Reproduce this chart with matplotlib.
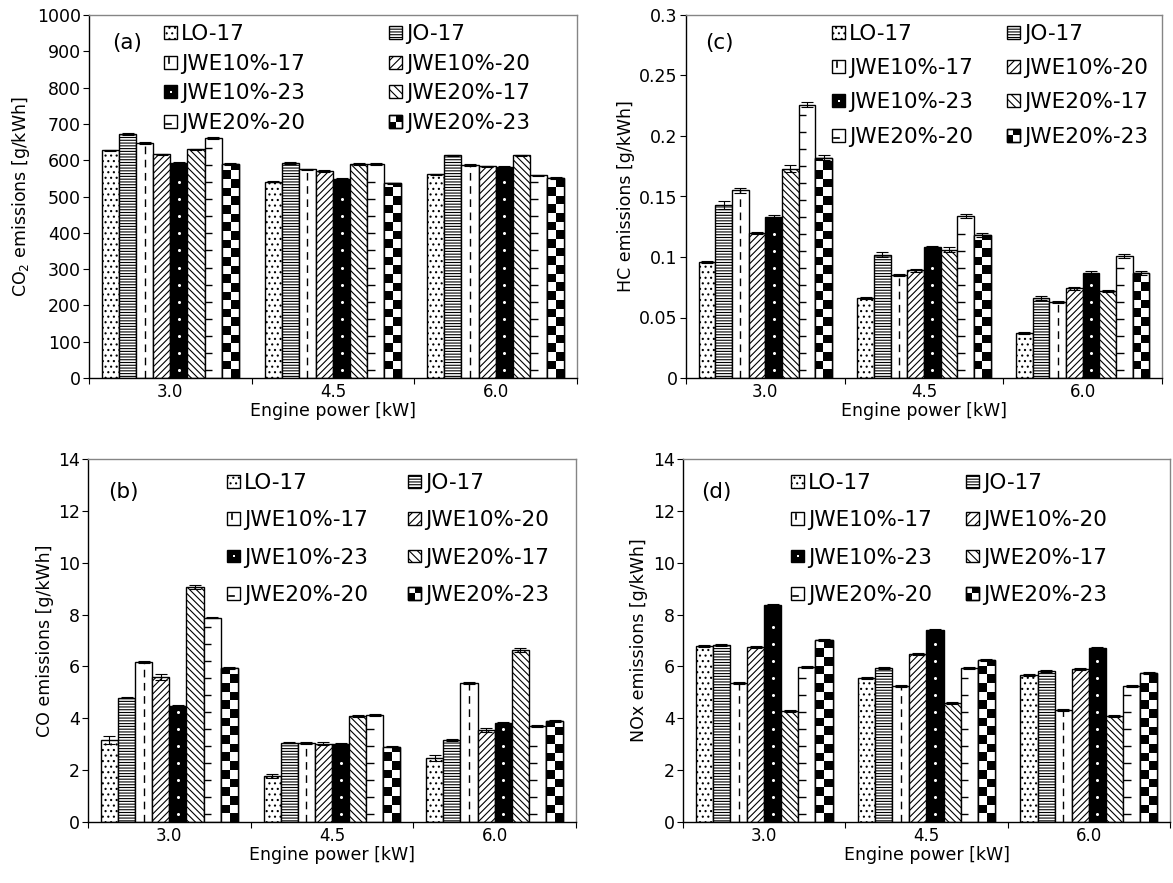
import numpy as np
import matplotlib
matplotlib.use("Agg")
import matplotlib.pyplot as plt
from matplotlib.patches import Patch, Rectangle
from matplotlib.legend_handler import HandlerBase
from matplotlib.lines import Line2D
from matplotlib.ticker import FuncFormatter, MultipleLocator

plt.rcParams["font.family"] = ["DejaVu Sans"]
plt.rcParams["hatch.linewidth"] = 0.8

# ---- data -----------------------------------------------------------------
power = ["3.0", "4.5", "6.0"]
fuels = ["LO-17", "JO-17", "JWE10%-17", "JWE10%-20",
         "JWE10%-23", "JWE20%-17", "JWE20%-20", "JWE20%-23"]

# one row per fuel, one column per engine power (3.0, 4.5, 6.0 kW)
co2 = [[627, 541, 561], [672, 592, 613], [648, 575, 587], [616, 570, 583],
       [593, 549, 581], [630, 589, 613], [661, 589, 558], [589, 536, 551]]
co2_err = [[2, 2, 2]] * 8

hc = [[0.096, 0.066, 0.037], [0.143, 0.102, 0.066], [0.155, 0.085, 0.063],
      [0.120, 0.089, 0.074], [0.133, 0.108, 0.087], [0.173, 0.106, 0.072],
      [0.226, 0.134, 0.101], [0.182, 0.118, 0.087]]
hc_err = [[0.001, 0.001, 0.001], [0.003, 0.002, 0.0015], [0.002, 0.001, 0.001],
          [0.001, 0.001, 0.001], [0.0015, 0.0015, 0.0015], [0.003, 0.002, 0.001],
          [0.002, 0.0015, 0.0015], [0.002, 0.0015, 0.0015]]

co = [[3.15, 1.77, 2.48], [4.80, 3.06, 3.16], [6.18, 3.04, 5.37],
      [5.58, 3.02, 3.55], [4.48, 3.00, 3.81], [9.07, 4.10, 6.64],
      [7.88, 4.13, 3.71], [5.94, 2.91, 3.88]]
co_err = [[0.15, 0.07, 0.12], [0.03, 0.03, 0.03], [0.04, 0.03, 0.04],
          [0.12, 0.06, 0.08], [0.03, 0.03, 0.03], [0.08, 0.04, 0.08],
          [0.03, 0.04, 0.03], [0.05, 0.03, 0.04]]

nox = [[6.79, 5.54, 5.67], [6.83, 5.93, 5.84], [5.37, 5.26, 4.32],
       [6.76, 6.48, 5.89], [8.37, 7.40, 6.72], [4.29, 4.60, 4.09],
       [5.99, 5.93, 5.26], [7.02, 6.25, 5.76]]
nox_err = [[0.04, 0.04, 0.04]] * 8

# fill style of each fuel's bars
styles = ["dots", "hlines", "vdash", "fwd", "blackdots", "back", "hdash", "checker"]

# ---- helpers --------------------------------------------------------------
N = len(fuels)
BW = 0.842 / N
AX_H_PX = 363.0


def draw_bars(ax, values, errors, ymax):
    xc = np.arange(len(power))
    step = ymax * 17.0 / AX_H_PX          # pattern period (~17 px)
    for i, (vals, errs, st) in enumerate(zip(values, errors, styles)):
        x = xc + (i - (N - 1) / 2) * BW
        vals = np.asarray(vals, float)
        kw = dict(width=BW, edgecolor="black", linewidth=1.0, zorder=2)
        if st == "dots":
            ax.bar(x, vals, facecolor="white", hatch="...", **kw)
        elif st == "hlines":
            ax.bar(x, vals, facecolor="white", hatch="------", **kw)
        elif st == "fwd":
            ax.bar(x, vals, facecolor="white", hatch="/////", **kw)
        elif st == "back":
            ax.bar(x, vals, facecolor="white", hatch="\\\\\\\\\\", **kw)
        elif st == "blackdots":
            ax.bar(x, vals, facecolor="black", **kw)
            for xi, v in zip(x, vals):
                ys = np.arange(step * 0.5, v - step * 0.3, step)
                ax.plot(np.full(len(ys), xi), ys, "o", ms=2.2, color="white",
                        mec="none", zorder=2.3)
        elif st == "vdash":
            ax.bar(x, vals, facecolor="white", **kw)
            ax.vlines(x, 0, vals, colors="black", linewidth=1.0,
                      linestyles=(0, (5.5, 4)), zorder=2.3)
        elif st == "hdash":
            ax.bar(x, vals, facecolor="white", **kw)
            for xi, v in zip(x, vals):
                ys = np.arange(step * 0.5, v - step * 0.3, step)
                ax.hlines(ys, xi - BW / 2, xi - BW * 0.05, colors="black",
                          linewidth=1.0, zorder=2.3)
        elif st == "checker":
            bars = ax.bar(x, vals, facecolor="white", **kw)
            nrows = int(round(AX_H_PX / 8.6))
            board = (np.add.outer(np.arange(nrows), np.arange(2)) % 2).astype(float)
            for b in bars:
                x0 = b.get_x()
                im = ax.imshow(board, extent=(x0, x0 + BW, 0, ymax), origin="lower",
                               cmap="gray_r", vmin=0, vmax=1, aspect="auto",
                               interpolation="nearest", zorder=2.2)
                im.set_clip_path(b)
            ax.bar(x, vals, width=BW, fill=False, edgecolor="black",
                   linewidth=1.0, zorder=2.4)
        ax.errorbar(x, vals, yerr=errs, fmt="none", ecolor="black",
                    elinewidth=0.8, capsize=4, capthick=0.8, zorder=3)


class IconHandler(HandlerBase):
    def __init__(self, kind):
        super().__init__()
        self.kind = kind

    def create_artists(self, legend, orig_handle, xdescent, ydescent,
                       width, height, fontsize, trans):
        s = min(width, height)
        x0 = -xdescent + (width - s) / 2
        y0 = -ydescent + (height - s) / 2
        k = self.kind
        face = "black" if k == "blackdots" else "white"
        hatch = {"dots": "...", "hlines": "------", "fwd": "////",
                 "back": "\\\\\\\\"}.get(k)
        arts = [Rectangle((x0, y0), s, s, facecolor=face, edgecolor="black",
                          hatch=hatch, linewidth=1.0, transform=trans)]
        if k == "vdash":
            arts.append(Line2D([x0 + s * 0.35] * 2, [y0 + s * 0.45, y0 + s * 0.85],
                               color="black", lw=1.2, transform=trans))
        elif k == "hdash":
            arts.append(Line2D([x0 + s * 0.15, x0 + s * 0.5], [y0 + s * 0.3] * 2,
                               color="black", lw=1.2, transform=trans))
        elif k == "blackdots":
            arts.append(Rectangle((x0 + s * 0.45, y0 + s * 0.45), s * 0.15, s * 0.15,
                                  facecolor="white", edgecolor="none", transform=trans))
        elif k == "checker":
            for dx, dy in [(0, 0), (0.5, 0.5)]:
                arts.append(Rectangle((x0 + s * dx, y0 + s * dy), s * 0.5, s * 0.5,
                                      facecolor="black", edgecolor="none",
                                      transform=trans))
            arts.append(Rectangle((x0, y0), s, s, fill=False, edgecolor="black",
                                  linewidth=1.0, transform=trans))
        return arts


def add_legend(ax, anchor, colsp, rowsp):
    order = [0, 2, 4, 6, 1, 3, 5, 7]
    handles = [Patch() for _ in fuels]
    hmap = {h: IconHandler(st) for h, st in zip(handles, styles)}
    leg = ax.legend([handles[i] for i in order], [fuels[i] for i in order],
                    handler_map=hmap, ncol=2, loc="upper left",
                    bbox_to_anchor=anchor, frameon=False, fontsize=15.5,
                    handlelength=0.6, handleheight=0.6, handletextpad=0.2,
                    columnspacing=colsp, labelspacing=rowsp, borderpad=0,
                    borderaxespad=0)
    leg.set_zorder(5)


def style_axes(ax, ymax, ystep, ylabel, letter, letter_xy):
    ax.set_xlim(-0.5, len(power) - 0.5)
    ax.set_ylim(0, ymax)
    ax.yaxis.set_major_locator(MultipleLocator(ystep))
    ax.yaxis.set_major_formatter(FuncFormatter(lambda v, p: "%g" % round(v, 6)))
    ax.set_xticks(np.arange(-0.5, len(power), 1.0))
    ax.set_xticklabels([])
    ax.set_xticks(np.arange(len(power)), minor=True)
    ax.set_xticklabels(power, minor=True)
    ax.tick_params(axis="x", which="major", direction="out", length=4.5, width=0.8)
    ax.tick_params(axis="x", which="minor", length=0, pad=3.5, labelsize=12)
    ax.tick_params(axis="y", direction="out", length=4.5, width=0.8, pad=1.5,
                   labelsize=12.5)
    for side in ("top", "right"):
        ax.spines[side].set_color("#858585")
        ax.spines[side].set_linewidth(1.0)
    for side in ("left", "bottom"):
        ax.spines[side].set_color("black")
        ax.spines[side].set_linewidth(1.0)
    ax.set_xlabel("Engine power [kW]", fontsize=12.5, labelpad=0.5)
    ax.set_ylabel(ylabel, fontsize=12.5, labelpad=3)
    ax.text(letter_xy[0], letter_xy[1], letter, transform=ax.transAxes,
            fontsize=15.5, ha="center", va="center")


# ---- figure ---------------------------------------------------------------
fig = plt.figure(figsize=(11.73, 8.83), dpi=100)
W, H = 1173.0, 883.0


def make_axes(x0, x1, ytop, ybot):
    return fig.add_axes([x0 / W, 1 - ybot / H, (x1 - x0) / W, (ybot - ytop) / H])


ax_a = make_axes(89, 577, 15, 378)
ax_c = make_axes(686, 1162, 15, 378)
ax_b = make_axes(88, 576, 459, 822)
ax_d = make_axes(683, 1170, 459, 822)

draw_bars(ax_a, co2, co2_err, 1000)
style_axes(ax_a, 1000, 100, "CO$_2$ emissions [g/kWh]", "(a)", (0.078, 0.923))
add_legend(ax_a, (0.154, 0.975), 3.9, 0.45)

draw_bars(ax_c, hc, hc_err, 0.3)
style_axes(ax_c, 0.3, 0.05, "HC emissions [g/kWh]", "(c)", (0.071, 0.923))
add_legend(ax_c, (0.307, 0.975), 1.55, 0.66)

draw_bars(ax_b, co, co_err, 14)
style_axes(ax_b, 14, 2, "CO emissions [g/kWh]", "(b)", (0.072, 0.909))
add_legend(ax_b, (0.285, 0.961), 1.85, 0.8)

draw_bars(ax_d, nox, nox_err, 14)
style_axes(ax_d, 14, 2, "NOx emissions [g/kWh]", "(d)", (0.068, 0.909))
add_legend(ax_d, (0.222, 0.961), 1.55, 0.8)

fig.savefig("out.png", dpi=100)
